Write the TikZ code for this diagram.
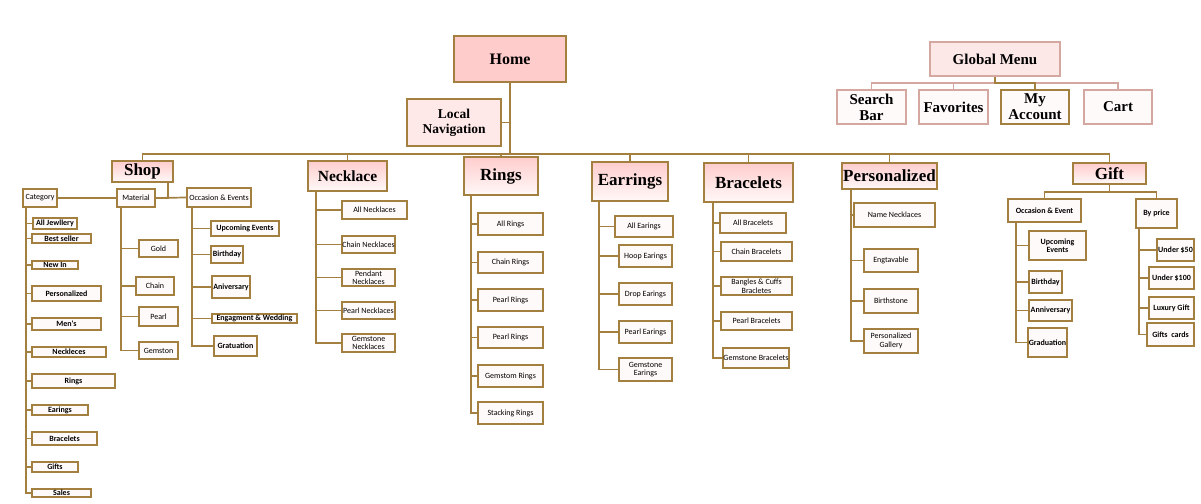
\documentclass[tikz,border=0pt]{standalone}
\usepackage{fontspec}
\setmainfont{Liberation Serif}
\newfontfamily\calfont{Carlito}
\usetikzlibrary{calc}
\definecolor{brn}{RGB}{164,128,64}
\definecolor{pinkbrd}{RGB}{212,168,160}
\definecolor{homefill}{RGB}{255,204,204}
\definecolor{lnavfill}{RGB}{255,232,232}
\definecolor{gmfill}{RGB}{253,232,232}
\definecolor{leaffill}{RGB}{255,250,250}
\definecolor{toppink}{RGB}{255,205,205}
\definecolor{botpink}{RGB}{255,248,248}
\newcommand\bx[7]{\node[#1, minimum width={(#5-#3)*1pt}, minimum height={(#6-#4)*1pt}] (#2) at ({(#3+#5)/2},{(#4+#6)/2}) {#7};}
\tikzset{
  basebox/.style={draw=brn, line width=2pt, inner sep=0pt, align=center},
  leaf/.style={basebox, fill=leaffill, font=\calfont\fontsize{8}{8.5}\selectfont},
  leafb/.style={basebox, fill=leaffill, font=\calfont\bfseries\fontsize{8}{8.5}\selectfont},
  lvlone/.style={basebox, line width=2.2pt, top color=toppink, bottom color=botpink, font=\bfseries\fontsize{17}{19}\selectfont},
  homebox/.style={basebox, line width=2.2pt, fill=homefill, font=\bfseries\fontsize{16}{18}\selectfont},
  lnavbox/.style={basebox, line width=2.2pt, fill=lnavfill, font=\bfseries\fontsize{13.5}{15}\selectfont},
  gmbox/.style={basebox, draw=pinkbrd, fill=gmfill, font=\bfseries\fontsize{15}{15}\selectfont},
  gmchild/.style={basebox, draw=pinkbrd, fill=leaffill, font=\bfseries\fontsize{15}{16}\selectfont},
  conn/.style={draw=brn, line width=1.7pt},
  pconn/.style={draw=pinkbrd, line width=1.7pt}
}
\begin{document}
\begin{tikzpicture}[x=1pt,y=-1pt]
\useasboundingbox[fill=white] (0,0) rectangle (1201,503);

% top
\bx{homebox}{home}{454}{36}{566}{82}{Home}
\bx{lnavbox}{lnav}{407}{99}{501}{146}{Local\\Navigation}
\path (home.south) ++(0,71) coordinate (hub);
\draw[conn] (home.south) -- (hub);
\draw[conn] (lnav.east) -- (lnav.east -| hub);

% global menu
\bx{gmbox}{gm}{930}{42}{1060}{76}{Global Menu}
\bx{gmchild}{sb}{837}{90}{906}{124}{Search\\Bar}
\bx{gmchild}{fav}{919}{90}{988}{124}{Favorites}
\bx{gmchild, draw=brn}{acct}{1001}{90}{1069}{124}{My\\Account}
\bx{gmchild}{cart}{1084}{90}{1152}{124}{Cart}
\path (gm.south) ++(0,6) coordinate (gmj);
\draw[pconn] (sb.north) |- (gmj);
\draw[pconn] (fav.north) |- (gmj);
\draw[pconn] (cart.north) |- (gmj);
\draw[conn] (acct.north) |- (gmj) -- (gm.south);

% level one
\bx{lvlone}{shop}{112}{161}{173}{182}{Shop}
\bx{lvlone, font=\bfseries\fontsize{15.5}{17}\selectfont}{neck}{308}{161}{387}{191}{Necklace}
\bx{lvlone}{rings}{464}{157}{538}{195}{Rings}
\bx{lvlone}{ear}{592}{162}{668}{201}{Earrings}
\bx{lvlone}{brac}{704}{163}{793}{202}{Bracelets}
\bx{lvlone}{pers}{842}{163}{937}{189}{Personalized}
\bx{lvlone}{gift}{1073}{163}{1146}{184}{Gift}
\foreach \n in {shop,neck,rings,ear,brac,pers,gift}{\draw[conn] (\n.north) |- (hub);}

% shop subtree
\bx{leaf}{cat}{23}{189}{57}{207}{Category}
\bx{leaf}{mat}{117}{189}{155}{207}{Material}
\bx{leaf}{occ}{187}{188}{251}{207}{Occasion \& Events}
\draw[conn] (cat.east) -- (mat.west);
\draw[conn] (mat.east) -- (occ.west);
\draw[conn] ([xshift=-6pt]shop.south east) |- (mat.east);

\bx{leafb}{c1}{33}{218}{77}{229}{All Jewllery}
\bx{leafb}{c2}{32}{234}{91}{243}{Best seller}
\bx{leafb}{c3}{32}{261}{78}{269}{New In}
\bx{leafb}{c4}{32}{286}{101}{301}{Personalized}
\bx{leafb}{c5}{32}{318}{101}{330}{Men's}
\bx{leafb}{c6}{32}{347}{106}{357}{Neckleces}
\bx{leafb}{c7}{32}{374}{115}{388}{Rings}
\bx{leafb}{c8}{32}{405}{88}{415}{Earings}
\bx{leafb}{c9}{32}{432}{97}{445}{Bracelets}
\bx{leafb}{c10}{32}{462}{78}{472}{Gifts}
\bx{leafb}{c11}{32}{489}{91}{497}{Sales}
\foreach \n in {c1,c2,c3,c4,c5,c6,c7,c8,c9,c10,c11}{\draw[conn] ([xshift=4pt]cat.south west) |- (\n.west);}

\bx{leaf}{m1}{139}{240}{178}{257}{Gold}
\bx{leaf}{m2}{136}{277}{174}{295}{Chain}
\bx{leaf}{m3}{139}{307}{178}{326}{Pearl}
\bx{leaf}{m4}{139}{342}{178}{359}{Gemston}
\foreach \n in {m1,m2,m3,m4}{\draw[conn] ([xshift=5pt]mat.south west) |- (\n.west);}

\bx{leafb}{o1}{211}{221}{279}{236}{Upcoming Events}
\bx{leafb}{o2}{211}{246}{243}{263}{Birthday}
\bx{leafb}{o3}{212}{276}{250}{298}{Aniversary}
\bx{leafb}{o4}{212}{314}{297}{323}{Engagment \& Wedding}
\bx{leafb}{o5}{214}{336}{257}{356}{Gratuation}
\foreach \n in {o1,o2,o3,o4,o5}{\draw[conn] ([xshift=6pt]occ.south west) |- (\n.west);}

% necklace
\bx{leaf}{n1}{342}{201}{407}{219}{All Necklaces}
\bx{leaf}{n2}{342}{236}{395}{253}{Chain Necklaces}
\bx{leaf}{n3}{342}{269}{395}{286}{Pendant\\Necklaces}
\bx{leaf}{n4}{342}{302}{395}{319}{Pearl Necklaces}
\bx{leaf}{n5}{342}{334}{395}{352}{Gemstone\\Necklaces}
\foreach \n in {n1,n2,n3,n4,n5}{\draw[conn] ([xshift=9pt]neck.south west) |- (\n.west);}

% rings
\bx{leaf}{r1}{478}{213}{543}{235}{All Rings}
\bx{leaf}{r2}{478}{252}{543}{273}{Chain Rings}
\bx{leaf}{r3}{478}{289}{543}{311}{Pearl Rings}
\bx{leaf}{r4}{478}{327}{543}{348}{Pearl Rings}
\bx{leaf}{r5}{478}{365}{543}{387}{Gemstom Rings}
\bx{leaf}{r6}{478}{402}{543}{424}{Stacking Rings}
\foreach \n in {r1,r2,r3,r4,r5,r6}{\draw[conn] ([xshift=8pt]rings.south west) |- (\n.west);}

% earrings
\bx{leaf}{e1}{615}{216}{673}{237}{All Earings}
\bx{leaf}{e2}{619}{245}{672}{267}{Hoop Earings}
\bx{leaf}{e3}{619}{283}{672}{305}{Drop Earings}
\bx{leaf}{e4}{619}{321}{672}{343}{Pearl Earings}
\bx{leaf}{e5}{619}{358}{672}{381}{Gemstone\\Earings}
\foreach \n in {e1,e2,e3,e4,e5}{\draw[conn] ([xshift=8pt]ear.south west) |- (\n.west);}

% bracelets
\bx{leaf}{b1}{720}{213}{786}{233}{All Bracelets}
\bx{leaf}{b2}{721}{242}{792}{261}{Chain Bracelets}
\bx{leaf}{b3}{721}{277}{792}{295}{Bangles \& Cuffs\\Bracletes}
\bx{leaf}{b4}{721}{312}{792}{330}{Pearl Bracelets}
\bx{leaf}{b5}{723}{348}{789}{368}{Gemstone Bracelets}
\foreach \n in {b1,b2,b3,b4,b5}{\draw[conn] ([xshift=10pt]brac.south west) |- (\n.west);}

% personalized
\bx{leaf}{p1}{854}{203}{935}{227}{Name Necklaces}
\bx{leaf}{p2}{864}{249}{918}{272}{Engtavable}
\bx{leaf}{p3}{864}{289}{918}{313}{Birthstone}
\bx{leaf}{p4}{864}{329}{918}{353}{Personalized\\Gallery}
\foreach \n in {p1,p2,p3,p4}{\draw[conn] ([xshift=10pt]pers.south west) |- (\n.west);}

% gift
\bx{leafb}{gocc}{1008}{199}{1081}{222}{Occasion \& Event}
\bx{leafb}{gbp}{1136}{199}{1177}{228}{By price}
\path (gift.south) ++(0,7) coordinate (gj);
\draw[conn] (gift.south) -- (gj);
\draw[conn] (gocc.north) |- (gj);
\draw[conn] (gbp.north) |- (gj);

\bx{leafb}{g1}{1029}{231}{1086}{260}{Upcoming\\Events}
\bx{leafb}{g2}{1029}{271}{1062}{293}{Birthday}
\bx{leafb}{g3}{1029}{300}{1072}{321}{Anniversary}
\bx{leafb}{g4}{1028}{328}{1067}{357}{Graduation}
\foreach \n in {g1,g2,g3,g4}{\draw[conn] ([xshift=9pt]gocc.south west) |- (\n.west);}

\bx{leafb}{h1}{1157}{239}{1194}{261}{Under \$50}
\bx{leafb}{h2}{1149}{267}{1194}{289}{Under \$100}
\bx{leafb}{h3}{1149}{297}{1194}{319}{Luxury Gift}
\bx{leafb}{h4}{1147}{323}{1194}{346}{Gifts\ \ cards}
\foreach \n in {h1,h2,h3,h4}{\draw[conn] ([xshift=4pt]gbp.south west) |- (\n.west);}
\end{tikzpicture}
\end{document}
